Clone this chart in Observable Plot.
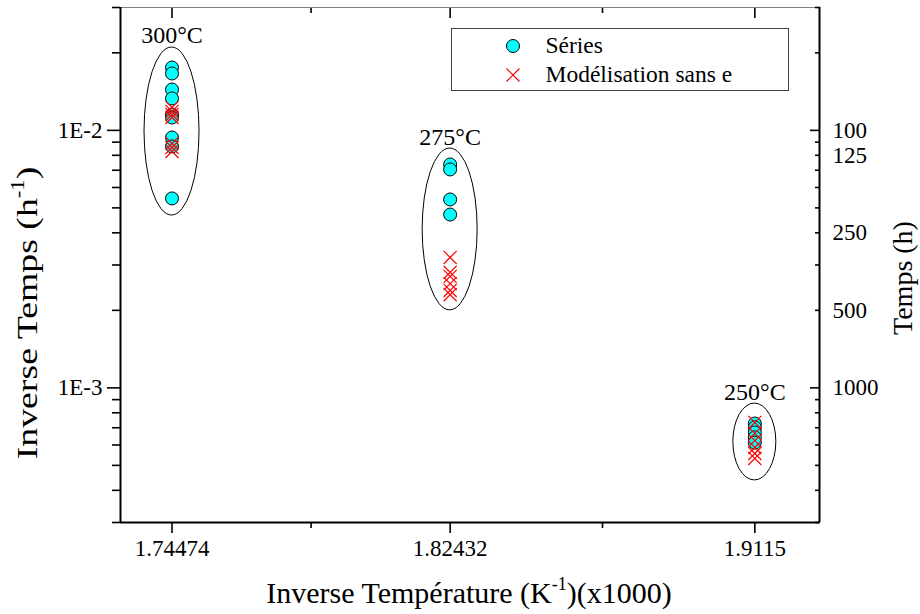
<!DOCTYPE html>
<html><head><meta charset="utf-8">
<script src="https://cdn.jsdelivr.net/npm/d3@7"></script>
<script src="https://cdn.jsdelivr.net/npm/@observablehq/plot@0.6"></script>
<style>
body{margin:0;background:#fff;}
#wrap{position:relative;width:920px;height:614px;font-family:'Liberation Serif',serif;}
#legend{position:absolute;left:451px;top:28px;width:336px;height:61px;border:1.5px solid #444;background:#fff;}
#legend .row{position:absolute;left:0;height:29px;display:flex;align-items:center;font-size:23.5px;color:#000;}
#legend svg{margin-left:52.5px;margin-right:25px;}
</style></head><body><div id="wrap"></div>
<script>
// ---- data ----
const tempLabels = ["300°C", "275°C", "250°C"];
const invTemp = [1.74474, 1.82432, 1.9115];
const xTickLabels = ["1.74474", "1.82432", "1.9115"];
const xMinorTicks = [1.78453, 1.86791];
const xDomain = [1.73, 1.93];
const yDomain = [3e-4, 3e-2];
const yMajorTicks = [1e-2, 1e-3];
const yMajorLabels = ["1E-2", "1E-3"];
const yMinorTicks = [3e-4, 4e-4, 5e-4, 6e-4, 7e-4, 8e-4, 9e-4, 2e-3, 3e-3, 4e-3, 5e-3, 6e-3, 7e-3, 8e-3, 9e-3, 2e-2, 3e-2];
const timeTicks = [100, 125, 250, 500, 1000];

const series300 = [0.01754, 0.01663, 0.01441, 0.01330, 0.01152, 0.01122, 0.00938, 0.00866, 0.00544];
const series275 = [0.00737, 0.00705, 0.00539, 0.00471];
const series250 = [7.27e-4, 7.02e-4, 6.71e-4, 6.42e-4, 6.13e-4];
const model300 = [0.01227, 0.01184, 0.01152, 0.01122, 0.00889, 0.00858, 0.00828];
const model275 = [0.00321, 0.00281, 0.00271, 0.00254, 0.00239, 0.00230];
const model250 = [7.34e-4, 6.65e-4, 6.24e-4, 5.87e-4, 5.56e-4, 5.32e-4];

const ellipseTop = [0.02098, 0.00850, 8.69e-4];
const ellipseBottom = [0.00467, 0.00200, 4.37e-4];
const ellipseHalfWidth = [0.00787, 0.00787, 0.00615];

const legendNames = ["Séries", "Modélisation sans e"];

// ---- tables ----
const seriesGroups = [series300, series275, series250];
const modelGroups = [model300, model275, model250];
const seriesPts = seriesGroups.flatMap((vals, i) => vals.map(v => ({x: invTemp[i], y: v})));
const modelPts = modelGroups.flatMap((vals, i) => vals.map(v => ({x: invTemp[i], y: v})));
const groups = invTemp.map((x, i) => ({x, top: ellipseTop[i], bottom: ellipseBottom[i], hw: ellipseHalfWidth[i], label: tempLabels[i]}));

function ellipses(index, scales) {
  const g = d3.create("svg:g").attr("fill", "none").attr("stroke", "#000").attr("stroke-width", 1);
  for (const d of groups) {
    const cx = scales.x(d.x);
    const rx = scales.x(d.x + d.hw) - cx;
    const y1 = scales.y(d.top), y2 = scales.y(d.bottom);
    g.append("ellipse").attr("cx", cx).attr("cy", (y1 + y2) / 2).attr("rx", rx).attr("ry", (y2 - y1) / 2);
  }
  return g.node();
}

const svg = Plot.plot({
  width: 920, height: 614,
  marginLeft: 120, marginRight: 101, marginTop: 7, marginBottom: 92,
  x: {domain: xDomain, axis: null},
  y: {type: "log", domain: yDomain, axis: null},
  style: {fontFamily: "'Liberation Serif', serif", fontSize: "23px", color: "#000", background: "#fff", overflow: "visible"},
  marks: [
    Plot.ruleY([yDomain[1]], {stroke: "#808080", strokeWidth: 1.2}),
    Plot.ruleX(xDomain, {stroke: "#000", strokeWidth: 2}),
    Plot.ruleY([yDomain[0]], {stroke: "#000", strokeWidth: 2}),
    // bottom axis
    Plot.axisX({ticks: invTemp, anchor: "bottom", tickSize: 11, tickPadding: 6, strokeWidth: 1.6, label: null,
      tickFormat: d => xTickLabels[invTemp.indexOf(d)]}),
    Plot.axisX({ticks: xMinorTicks, anchor: "bottom", tickSize: 6, strokeWidth: 1.6, label: null, tickFormat: () => ""}),
    // top axis (inward)
    Plot.axisX({ticks: invTemp, anchor: "top", tickSize: 10, insetTop: 10, strokeWidth: 1.6, label: null, tickFormat: () => ""}),
    Plot.axisX({ticks: xMinorTicks, anchor: "top", tickSize: 5, insetTop: 5, strokeWidth: 1.6, label: null, tickFormat: () => ""}),
    // left axis
    Plot.axisY({ticks: yMajorTicks, anchor: "left", tickSize: 13, tickPadding: 5, strokeWidth: 1.6, label: null,
      tickFormat: d => yMajorLabels[yMajorTicks.indexOf(d)]}),
    Plot.axisY({ticks: yMinorTicks, anchor: "left", tickSize: 8, strokeWidth: 1.6, label: null, tickFormat: () => ""}),
    // right axis (inward ticks)
    Plot.axisY({ticks: yMajorTicks, anchor: "right", tickSize: 10, insetRight: 10, strokeWidth: 1.6, label: null, tickFormat: () => ""}),
    Plot.axisY({ticks: yMinorTicks, anchor: "right", tickSize: 5, insetRight: 5, strokeWidth: 1.6, label: null, tickFormat: () => ""}),
    Plot.text(timeTicks, {y: d => 1 / d, text: d => String(d), frameAnchor: "right", dx: 13, textAnchor: "start", fontSize: 23}),
    ellipses,
    Plot.text(groups, {x: "x", y: "top", text: "label", lineAnchor: "bottom", dy: -4, fontSize: 24}),
    Plot.dot(seriesPts, {x: "x", y: "y", r: 6.5, fill: "#00ffff", stroke: "#000", strokeWidth: 1}),
    Plot.dot(modelPts, {x: "x", y: "y", symbol: "times", r: 6, stroke: "#ff0000", strokeWidth: 1.2})
  ]
});

const s = d3.select(svg);
function title(x, y, rot, size, stretch, parts) {
  const t = s.append("text").attr("text-anchor", "middle").attr("font-size", size)
    .attr("font-family", "'Liberation Serif', serif").attr("fill", "#000")
    .attr("transform", `translate(${x},${y})` + (rot ? ` rotate(${rot})` : "") + ` scale(${stretch},1)`);
  for (const p of parts) {
    if (p.sup) t.append("tspan").attr("font-size", size * 0.6).attr("dy", -size * 0.42).text(p.sup);
    else t.append("tspan").attr("dy", p.after ? size * 0.42 : 0).text(p.text);
  }
}
title(469, 603, 0, 30, 1, [{text: "Inverse Température (K"}, {sup: "-1"}, {text: ")(x1000)", after: true}]);
title(37, 313, -90, 30, 1.26, [{text: "Inverse Temps (h"}, {sup: "-1"}, {text: ")", after: true}]);
title(912, 278, -90, 28, 1, [{text: "Temps (h)"}]);

const wrap = document.getElementById("wrap");
wrap.appendChild(svg);

// legend
const leg = document.createElement("div");
leg.id = "legend";
legendNames.forEach((name, i) => {
  const row = document.createElement("div");
  row.className = "row";
  row.style.top = (i * 29 + 2) + "px";
  const sym = i === 0
    ? `<svg width="16" height="16"><circle cx="8" cy="8" r="6.5" fill="#00ffff" stroke="#000" stroke-width="1"/></svg>`
    : `<svg width="16" height="16"><path d="M1.5,1.5L14.5,14.5M14.5,1.5L1.5,14.5" stroke="#ff0000" stroke-width="1.2"/></svg>`;
  row.innerHTML = sym + `<span>${name}</span>`;
  leg.appendChild(row);
});
wrap.appendChild(leg);
</script></body></html>
